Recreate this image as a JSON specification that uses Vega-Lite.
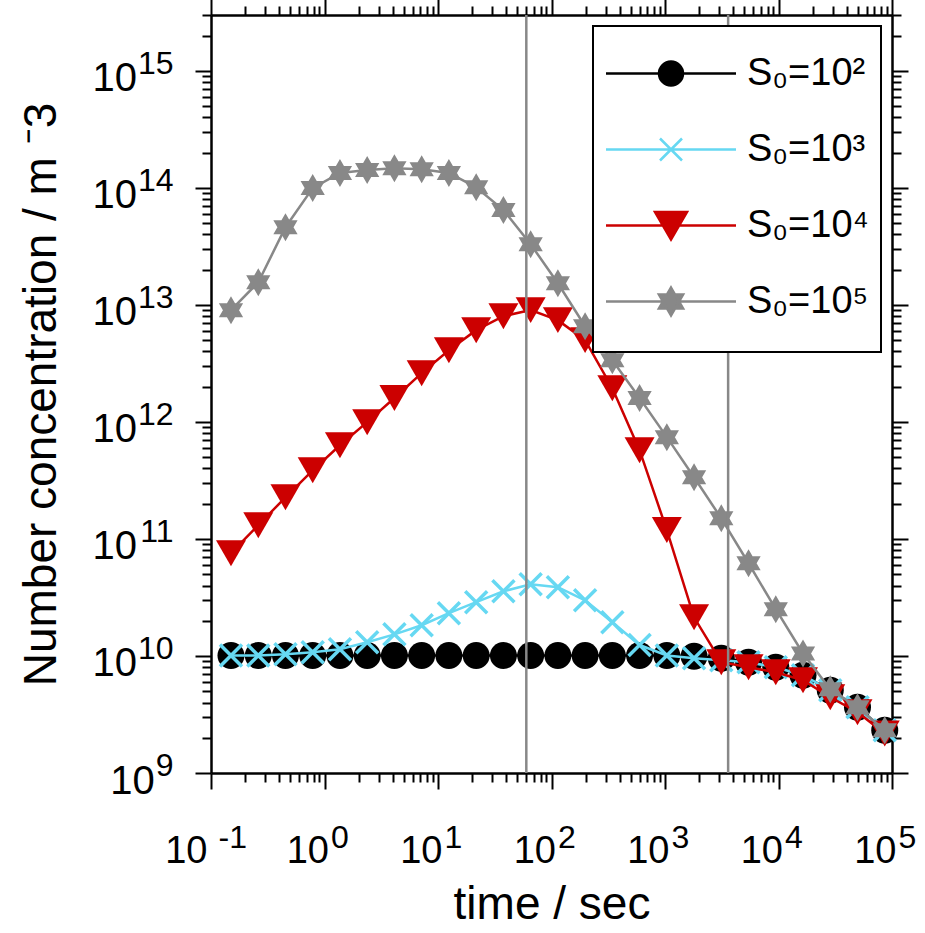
{
  "$schema": "https://vega.github.io/schema/vega-lite/v6.json",
  "width": 681,
  "height": 758,
  "autosize": {"type": "none"},
  "padding": {"left": 211, "top": 15, "right": 33, "bottom": 160},
  "background": "white",
  "config": {"view": {"stroke": null}, "font": "Liberation Sans"},
  "datasets": {
    "curves": [
      {"s": "S₀=10²", "t": 0.15, "n": 1.01e10}, {"s": "S₀=10²", "t": 0.261, "n": 1.01e10}, {"s": "S₀=10²", "t": 0.453, "n": 1.01e10},
      {"s": "S₀=10²", "t": 0.787, "n": 1.01e10}, {"s": "S₀=10²", "t": 1.368, "n": 1.01e10}, {"s": "S₀=10²", "t": 2.377, "n": 1.01e10},
      {"s": "S₀=10²", "t": 4.13, "n": 1.01e10}, {"s": "S₀=10²", "t": 7.18, "n": 1.01e10}, {"s": "S₀=10²", "t": 12.47, "n": 1.01e10},
      {"s": "S₀=10²", "t": 21.7, "n": 1.01e10}, {"s": "S₀=10²", "t": 37.7, "n": 1.01e10}, {"s": "S₀=10²", "t": 65.5, "n": 1.01e10},
      {"s": "S₀=10²", "t": 113.8, "n": 1.01e10}, {"s": "S₀=10²", "t": 197.7, "n": 1.01e10}, {"s": "S₀=10²", "t": 343.6, "n": 1.01e10},
      {"s": "S₀=10²", "t": 597, "n": 1.01e10}, {"s": "S₀=10²", "t": 1038, "n": 1.01e10}, {"s": "S₀=10²", "t": 1803, "n": 9.94e9},
      {"s": "S₀=10²", "t": 3133, "n": 9.55e9}, {"s": "S₀=10²", "t": 5445, "n": 8.84e9}, {"s": "S₀=10²", "t": 9462, "n": 8.0e9},
      {"s": "S₀=10²", "t": 16440, "n": 6.84e9}, {"s": "S₀=10²", "t": 28580, "n": 5.09e9}, {"s": "S₀=10²", "t": 49660, "n": 3.65e9},
      {"s": "S₀=10²", "t": 86300, "n": 2.32e9},

      {"s": "S₀=10³", "t": 0.15, "n": 1.01e10}, {"s": "S₀=10³", "t": 0.261, "n": 1.01e10}, {"s": "S₀=10³", "t": 0.453, "n": 1.035e10},
      {"s": "S₀=10³", "t": 0.787, "n": 1.076e10}, {"s": "S₀=10³", "t": 1.368, "n": 1.14e10}, {"s": "S₀=10³", "t": 2.377, "n": 1.31e10},
      {"s": "S₀=10³", "t": 4.13, "n": 1.53e10}, {"s": "S₀=10³", "t": 7.18, "n": 1.83e10}, {"s": "S₀=10³", "t": 12.47, "n": 2.32e10},
      {"s": "S₀=10³", "t": 21.7, "n": 2.88e10}, {"s": "S₀=10³", "t": 37.7, "n": 3.57e10}, {"s": "S₀=10³", "t": 65.5, "n": 4.1e10},
      {"s": "S₀=10³", "t": 113.8, "n": 3.87e10}, {"s": "S₀=10³", "t": 197.7, "n": 2.99e10}, {"s": "S₀=10³", "t": 343.6, "n": 1.94e10},
      {"s": "S₀=10³", "t": 597, "n": 1.24e10}, {"s": "S₀=10³", "t": 1038, "n": 1.01e10}, {"s": "S₀=10³", "t": 1803, "n": 9.55e9},
      {"s": "S₀=10³", "t": 3133, "n": 9.19e9}, {"s": "S₀=10³", "t": 5445, "n": 8.84e9}, {"s": "S₀=10³", "t": 9462, "n": 8.0e9},
      {"s": "S₀=10³", "t": 16440, "n": 6.84e9}, {"s": "S₀=10³", "t": 28580, "n": 5.09e9}, {"s": "S₀=10³", "t": 49660, "n": 3.65e9},
      {"s": "S₀=10³", "t": 86300, "n": 2.32e9},

      {"s": "S₀=10⁴", "t": 0.15, "n": 7.55e10}, {"s": "S₀=10⁴", "t": 0.261, "n": 1.31e11}, {"s": "S₀=10⁴", "t": 0.453, "n": 2.27e11},
      {"s": "S₀=10⁴", "t": 0.787, "n": 3.86e11}, {"s": "S₀=10⁴", "t": 1.368, "n": 6.32e11}, {"s": "S₀=10⁴", "t": 2.377, "n": 9.95e11},
      {"s": "S₀=10⁴", "t": 4.13, "n": 1.6e12}, {"s": "S₀=10⁴", "t": 7.18, "n": 2.61e12}, {"s": "S₀=10⁴", "t": 12.47, "n": 4.1e12},
      {"s": "S₀=10⁴", "t": 21.7, "n": 6.08e12}, {"s": "S₀=10⁴", "t": 37.7, "n": 8.01e12}, {"s": "S₀=10⁴", "t": 65.5, "n": 9.02e12},
      {"s": "S₀=10⁴", "t": 113.8, "n": 7.41e12}, {"s": "S₀=10⁴", "t": 197.7, "n": 5.0e12}, {"s": "S₀=10⁴", "t": 343.6, "n": 1.94e12},
      {"s": "S₀=10⁴", "t": 597, "n": 5.73e11}, {"s": "S₀=10⁴", "t": 1038, "n": 1.19e11}, {"s": "S₀=10⁴", "t": 1803, "n": 2.14e10},
      {"s": "S₀=10⁴", "t": 3133, "n": 8.84e9}, {"s": "S₀=10⁴", "t": 5445, "n": 8.0e9}, {"s": "S₀=10⁴", "t": 9462, "n": 7.26e9},
      {"s": "S₀=10⁴", "t": 16440, "n": 6.2e9}, {"s": "S₀=10⁴", "t": 28580, "n": 4.44e9}, {"s": "S₀=10⁴", "t": 49660, "n": 3.31e9},
      {"s": "S₀=10⁴", "t": 86300, "n": 2.18e9},

      {"s": "S₀=10⁵", "t": 0.15, "n": 9.02e12}, {"s": "S₀=10⁵", "t": 0.261, "n": 1.56e13}, {"s": "S₀=10⁵", "t": 0.453, "n": 4.61e13},
      {"s": "S₀=10⁵", "t": 0.787, "n": 9.95e13}, {"s": "S₀=10⁵", "t": 1.368, "n": 1.34e14}, {"s": "S₀=10⁵", "t": 2.377, "n": 1.42e14},
      {"s": "S₀=10⁵", "t": 4.13, "n": 1.47e14}, {"s": "S₀=10⁵", "t": 7.18, "n": 1.44e14}, {"s": "S₀=10⁵", "t": 12.47, "n": 1.34e14},
      {"s": "S₀=10⁵", "t": 21.7, "n": 1.01e14}, {"s": "S₀=10⁵", "t": 37.7, "n": 6.46e13}, {"s": "S₀=10⁵", "t": 65.5, "n": 3.3e13},
      {"s": "S₀=10⁵", "t": 113.8, "n": 1.53e13}, {"s": "S₀=10⁵", "t": 197.7, "n": 6.58e12}, {"s": "S₀=10⁵", "t": 343.6, "n": 3.37e12},
      {"s": "S₀=10⁵", "t": 597, "n": 1.6e12}, {"s": "S₀=10⁵", "t": 1038, "n": 7.41e11}, {"s": "S₀=10⁵", "t": 1803, "n": 3.37e11},
      {"s": "S₀=10⁵", "t": 3133, "n": 1.5e11}, {"s": "S₀=10⁵", "t": 5445, "n": 6.2e10}, {"s": "S₀=10⁵", "t": 9462, "n": 2.51e10},
      {"s": "S₀=10⁵", "t": 16440, "n": 1.05e10}, {"s": "S₀=10⁵", "t": 28580, "n": 5.19e9}, {"s": "S₀=10⁵", "t": 49660, "n": 3.65e9},
      {"s": "S₀=10⁵", "t": 86300, "n": 2.32e9}
    ],
    "vlines": [{"t": 60}, {"t": 3600}]
  },
  "data": {"name": "curves"},
  "resolve": {"axis": {"x": "independent", "y": "independent"}},
  "layer": [
    {
      "transform": [{"filter": "datum.s == 'S₀=10²'"}],
      "mark": {"type": "line", "strokeWidth": 2.5, "point": {"shape": "circle", "size": 729, "filled": true, "opacity": 1}},
      "encoding": {
        "x": {
          "field": "t", "type": "quantitative",
          "scale": {"type": "log", "domain": [0.1, 100000], "nice": false},
          "axis": {
            "orient": "bottom",
            "values": [0.1,0.2,0.3,0.4,0.5,0.6,0.7,0.8,0.9,1,2,3,4,5,6,7,8,9,10,20,30,40,50,60,70,80,90,100,200,300,400,500,600,700,800,900,1000,2000,3000,4000,5000,6000,7000,8000,9000,10000,20000,30000,40000,50000,60000,70000,80000,90000,100000],
            "title": "time / sec", "titleFont": "Liberation Sans", "titleFontSize": 46, "titleFontWeight": "normal", "titleColor": "black",
            "titleY": 145, "titleBaseline": "alphabetic",
            "grid": false, "domainColor": "black", "domainWidth": 2.5, "tickColor": "black", "tickWidth": 2,
            "tickSize": {"condition": {"test": "abs(log(datum.value)/LN10 - round(log(datum.value)/LN10)) < 0.01", "value": 16}, "value": 9},
            "labelExpr": "abs(log(datum.value)/LN10 - round(log(datum.value)/LN10)) < 0.01 ? '10' : ''",
            "labelFont": "Liberation Sans", "labelFontSize": 38, "labelColor": "black",
            "labelAlign": "right", "labelBaseline": "alphabetic", "labelPadding": 73,
            "labelOffset": {"condition": {"test": "datum.value < 0.5", "value": -4}, "value": 4},
            "labelOverlap": false, "labelFlush": false, "labelBound": false
          }
        },
        "y": {
          "field": "n", "type": "quantitative",
          "scale": {"type": "log", "domain": [1e9, 3e15], "nice": false},
          "axis": {
            "orient": "left",
            "values": [1e9,2e9,3e9,4e9,5e9,6e9,7e9,8e9,9e9,1e10,2e10,3e10,4e10,5e10,6e10,7e10,8e10,9e10,1e11,2e11,3e11,4e11,5e11,6e11,7e11,8e11,9e11,1e12,2e12,3e12,4e12,5e12,6e12,7e12,8e12,9e12,1e13,2e13,3e13,4e13,5e13,6e13,7e13,8e13,9e13,1e14,2e14,3e14,4e14,5e14,6e14,7e14,8e14,9e14,1e15,2e15,3e15],
            "title": "Number concentration / m ⁻3", "titleFont": "Liberation Sans", "titleFontSize": 46, "titleFontWeight": "normal", "titleColor": "black",
            "titleX": -156, "titleBaseline": "alphabetic", "titleAngle": -90,
            "grid": false, "domainColor": "black", "domainWidth": 2.5, "tickColor": "black", "tickWidth": 2,
            "tickSize": {"condition": {"test": "abs(log(datum.value)/LN10 - round(log(datum.value)/LN10)) < 0.01", "value": 16}, "value": 9},
            "labelExpr": "abs(log(datum.value)/LN10 - round(log(datum.value)/LN10)) < 0.01 ? '10' : ''",
            "labelFont": "Liberation Sans", "labelFontSize": 40, "labelColor": "black",
            "labelAlign": "right", "labelBaseline": "alphabetic", "labelOffset": 20,
            "labelPadding": {"condition": {"test": "datum.value < 5e9", "value": 40.7}, "value": 58.5},
            "labelOverlap": false, "labelFlush": false, "labelBound": false
          }
        },
        "color": {
          "field": "s", "type": "nominal",
          "scale": {"domain": ["S₀=10²", "S₀=10³", "S₀=10⁴", "S₀=10⁵"], "range": ["#000000", "#66d8f2", "#cc0000", "#888888"]},
          "legend": {
            "orient": "none", "legendX": 382, "legendY": 11,
            "title": " ", "titleFont": "Liberation Sans", "titleFontSize": 12, "titlePadding": 4.5,
            "padding": 12,
            "strokeColor": "black", "fillColor": "white", "cornerRadius": 0,
            "labelFont": "Liberation Sans", "labelFontSize": 38, "labelColor": "black", "labelOffset": 104,
            "labelBaseline": "middle", "labelLimit": 300,
            "symbolSize": 400, "symbolStrokeWidth": 2.5, "rowPadding": 0,
            "encode": {
              "legend": {"update": {"strokeWidth": {"value": 2}}},
              "symbols": {
                "update": {
                  "shape": {"signal": "['M4.7,-3.3M4.7,3.3M-1.8,0H11.2M5.9,0A1.2,1.2 0 1,1 3.5,0A1.2,1.2 0 1,1 5.9,0Z', 'M4.7,-3.3M4.7,3.3M-1.8,0H11.2M3.6,-1.1L5.8,1.1M3.6,1.1L5.8,-1.1', 'M4.7,-3.3M4.7,3.3M-1.8,0H11.2M3.1,-1.35L6.3,-1.35L4.7,1.4Z', 'M4.7,-3.3M4.7,3.3M-1.8,0H11.2M4.7,-1.4L5.91,0.7L3.49,0.7ZM4.7,1.4L3.49,-0.7L5.91,-0.7Z'][datum.index]"},
                  "fill": {"signal": "['#000000', 'transparent', '#cc0000', '#888888'][datum.index]"},
                  "stroke": {"signal": "['#000000', '#66d8f2', '#cc0000', '#888888'][datum.index]"},
                  "strokeWidth": {"value": 2.5},
                  "size": {"value": 400},
                  "opacity": {"value": 1}
                }
              }
            }
          }
        }
      }
    },
    {
      "transform": [{"filter": "datum.s == 'S₀=10³'"}],
      "mark": {"type": "line", "strokeWidth": 2.5, "point": {"shape": "M-1,-1L1,1M-1,1L1,-1", "size": 484, "filled": false, "strokeWidth": 3.5, "opacity": 1}},
      "encoding": {
        "x": {
          "field": "t", "type": "quantitative",
          "axis": {
            "orient": "bottom", "values": [0.1, 1, 10, 100, 1000, 10000, 100000], "title": null,
            "domain": false, "ticks": true, "tickSize": 0, "tickOpacity": 0, "grid": false,
            "labelExpr": "'' + round(log(datum.value)/LN10)",
            "labelFont": "Liberation Sans", "labelFontSize": 32, "labelColor": "black",
            "labelAlign": "left", "labelBaseline": "alphabetic", "labelPadding": 74,
            "labelOffset": {"condition": {"test": "datum.value < 0.5", "value": 7}, "value": 6},
            "labelOverlap": false, "labelFlush": false, "labelBound": false
          }
        },
        "y": {
          "field": "n", "type": "quantitative",
          "axis": {
            "orient": "left", "values": [1e9, 1e10, 1e11, 1e12, 1e13, 1e14, 1e15], "title": null,
            "domain": false, "ticks": true, "tickSize": 0, "tickOpacity": 0, "grid": false,
            "labelExpr": "'' + round(log(datum.value)/LN10)",
            "labelFont": "Liberation Sans", "labelFontSize": 32, "labelColor": "black",
            "labelAlign": "right", "labelBaseline": "alphabetic", "labelPadding": 38, "labelOffset": 2.5,
            "labelOverlap": false, "labelFlush": false, "labelBound": false
          }
        },
        "color": {"field": "s", "type": "nominal"}
      }
    },
    {
      "transform": [{"filter": "datum.s == 'S₀=10⁴'"}],
      "mark": {"type": "line", "strokeWidth": 2.5, "point": {"shape": "triangle-down", "size": 900, "filled": true, "opacity": 1}},
      "encoding": {
        "x": {
          "field": "t", "type": "quantitative",
          "axis": {
            "orient": "top",
            "values": [0.1,0.2,0.3,0.4,0.5,0.6,0.7,0.8,0.9,1,2,3,4,5,6,7,8,9,10,20,30,40,50,60,70,80,90,100,200,300,400,500,600,700,800,900,1000,2000,3000,4000,5000,6000,7000,8000,9000,10000,20000,30000,40000,50000,60000,70000,80000,90000,100000],
            "title": null, "labels": false, "grid": false,
            "domainColor": "black", "domainWidth": 2.5, "tickColor": "black", "tickWidth": 2,
            "tickSize": {"condition": {"test": "abs(log(datum.value)/LN10 - round(log(datum.value)/LN10)) < 0.01", "value": 16}, "value": 9}
          }
        },
        "y": {
          "field": "n", "type": "quantitative",
          "axis": {
            "orient": "right",
            "values": [1e9,2e9,3e9,4e9,5e9,6e9,7e9,8e9,9e9,1e10,2e10,3e10,4e10,5e10,6e10,7e10,8e10,9e10,1e11,2e11,3e11,4e11,5e11,6e11,7e11,8e11,9e11,1e12,2e12,3e12,4e12,5e12,6e12,7e12,8e12,9e12,1e13,2e13,3e13,4e13,5e13,6e13,7e13,8e13,9e13,1e14,2e14,3e14,4e14,5e14,6e14,7e14,8e14,9e14,1e15,2e15,3e15],
            "title": null, "labels": false, "grid": false,
            "domainColor": "black", "domainWidth": 2.5, "tickColor": "black", "tickWidth": 2,
            "tickSize": {"condition": {"test": "abs(log(datum.value)/LN10 - round(log(datum.value)/LN10)) < 0.01", "value": 16}, "value": 9}
          }
        },
        "color": {"field": "s", "type": "nominal"}
      }
    },
    {
      "transform": [{"filter": "datum.s == 'S₀=10⁵'"}],
      "mark": {"type": "line", "strokeWidth": 2.5, "point": {"shape": "M0,-1L0.866,0.5L-0.866,0.5ZM0,1L-0.866,-0.5L0.866,-0.5Z", "size": 784, "filled": true, "opacity": 1}},
      "encoding": {
        "x": {"field": "t", "type": "quantitative", "axis": null},
        "y": {"field": "n", "type": "quantitative", "axis": null},
        "color": {"field": "s", "type": "nominal"}
      }
    },
    {
      "data": {"name": "vlines"},
      "mark": {"type": "rule", "color": "#888888", "strokeWidth": 2.5},
      "encoding": {
        "x": {"field": "t", "type": "quantitative", "axis": null}
      }
    }
  ]
}
